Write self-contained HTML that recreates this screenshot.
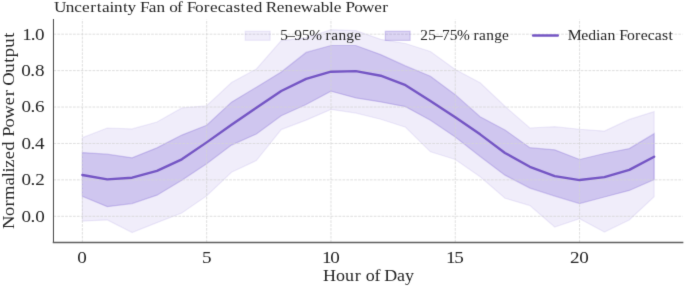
<!DOCTYPE html>
<html><head><meta charset="utf-8"><style>
html,body{margin:0;padding:0;background:#fff;}
svg{display:block;}
text{font-family:"Liberation Serif",serif;fill:#262626;}
.t{filter:grayscale(1);}
</style></head><body>
<svg width="685" height="286" viewBox="0 0 685 286">
<defs><filter id="soft" x="0" y="0" width="685" height="286" filterUnits="userSpaceOnUse" color-interpolation-filters="sRGB"><feConvolveMatrix order="3" kernelMatrix="0.01000 0.08000 0.01000 0.08000 0.64000 0.08000 0.01000 0.08000 0.01000" divisor="1" edgeMode="duplicate" preserveAlpha="true"/></filter></defs>
<g filter="url(#soft)">
<rect width="685" height="286" fill="#fff"/>
<polygon points="82.37,137.63 107.23,127.98 132.09,128.89 156.95,121.97 181.81,107.95 206.67,105.77 231.53,82.46 256.39,68.98 281.25,40.57 306.11,37.84 330.97,29.65 355.83,30.56 380.69,39.30 405.55,43.49 430.41,51.50 455.27,69.53 480.13,82.82 504.99,106.31 529.85,127.98 554.71,126.71 579.57,129.26 604.43,131.08 629.29,119.42 654.15,111.59 654.15,196.63 629.29,219.94 604.43,231.96 579.57,218.67 554.71,227.04 529.85,205.56 504.99,198.27 480.13,176.78 455.27,159.48 430.41,151.84 405.55,127.25 380.69,119.24 355.83,113.05 330.97,109.41 306.11,120.15 281.25,129.62 256.39,160.58 231.53,172.23 206.67,195.90 181.81,213.02 156.95,222.67 132.09,232.51 107.23,219.94 82.37,221.22" fill="rgb(104,76,204)" fill-opacity="0.1" stroke="rgb(104,76,204)" stroke-opacity="0.1" stroke-width="1.2"/>
<polygon points="82.37,152.57 107.23,154.20 132.09,157.85 156.95,147.83 181.81,135.08 206.67,125.25 231.53,102.12 256.39,87.19 281.25,72.08 306.11,52.41 330.97,45.49 355.83,45.49 380.69,54.60 405.55,65.89 430.41,76.27 455.27,94.66 480.13,116.69 504.99,129.98 529.85,147.65 554.71,149.83 579.57,159.48 604.43,153.48 629.29,148.56 654.15,133.63 654.15,179.52 629.29,190.44 604.43,197.00 579.57,203.55 554.71,196.09 529.85,188.07 504.99,175.15 480.13,156.57 455.27,137.09 430.41,120.15 405.55,106.68 380.69,101.94 355.83,97.94 330.97,91.20 306.11,104.49 281.25,115.78 256.39,133.99 231.53,145.10 206.67,163.67 181.81,180.24 156.95,195.18 132.09,203.55 107.23,206.65 82.37,196.27" fill="rgb(104,76,204)" fill-opacity="0.24" stroke="rgb(104,76,204)" stroke-opacity="0.24" stroke-width="1.2"/>
<g stroke="#d4d4d4" stroke-width="0.74" stroke-dasharray="2.7265 1.179" fill="none">
<line x1="82.37" y1="242.45" x2="82.37" y2="19.5"/>
<line x1="206.67" y1="242.45" x2="206.67" y2="19.5"/>
<line x1="330.97" y1="242.45" x2="330.97" y2="19.5"/>
<line x1="455.27" y1="242.45" x2="455.27" y2="19.5"/>
<line x1="579.57" y1="242.45" x2="579.57" y2="19.5"/>
<line x1="53.45" y1="216.30" x2="682.7" y2="216.30"/>
<line x1="53.45" y1="179.88" x2="682.7" y2="179.88"/>
<line x1="53.45" y1="143.46" x2="682.7" y2="143.46"/>
<line x1="53.45" y1="107.04" x2="682.7" y2="107.04"/>
<line x1="53.45" y1="70.62" x2="682.7" y2="70.62"/>
<line x1="53.45" y1="34.20" x2="682.7" y2="34.20"/>
</g>
<polyline points="82.37,174.96 107.23,179.33 132.09,177.69 156.95,170.96 181.81,159.30 206.67,142.37 231.53,124.70 256.39,107.77 281.25,91.02 306.11,78.81 330.97,71.71 355.83,71.17 380.69,75.72 405.55,85.19 430.41,101.03 455.27,117.24 480.13,134.36 504.99,152.93 529.85,166.77 554.71,176.06 579.57,180.06 604.43,177.15 629.29,169.86 654.15,156.75" fill="none" stroke="rgb(116,85,196)" stroke-width="2.4" stroke-linejoin="round" stroke-linecap="round"/>
<g fill="none" stroke-linecap="square">
<line x1="53.45" y1="19.5" x2="53.45" y2="242.45" stroke="#444444" stroke-width="1.0"/>
<line x1="53.45" y1="242.45" x2="682.7" y2="242.45" stroke="#5e5e5e" stroke-width="1.35"/>
</g>
<rect x="245.2" y="31.2" width="24.9" height="9.1" fill="rgb(104,76,204)" fill-opacity="0.1" stroke="rgb(104,76,204)" stroke-opacity="0.1" stroke-width="1.2"/>
<rect x="385.3" y="31.2" width="24.8" height="9.2" fill="rgb(104,76,204)" fill-opacity="0.24" stroke="rgb(104,76,204)" stroke-opacity="0.24" stroke-width="1.2"/>
<line x1="533.1" y1="35.45" x2="557.8" y2="35.45" stroke="rgb(116,85,196)" stroke-width="2.4" stroke-linecap="round"/>

<g class="t">
<text transform="translate(54.41,11.80) scale(1.1364,1)" x="-0.45 10.01 17.57 24.38 31.54 37.16 41.82 48.48 52.51 60.38 64.42 71.52 75.21 82.93 89.84 97.42 100.98 107.99 112.69 116.37 123.81 131.46 136.95 143.76 150.60 157.58 163.82 168.45 175.31 182.86 186.06 195.70 202.58 210.33 216.79 227.48 234.37 241.73 245.86 252.70 256.26 263.78 270.73 281.40 288.56" y="0" style="font-size:15.15px">Uncertainty&#160;Fan&#160;of&#160;Forecasted&#160;Renewable&#160;Power</text>
<text transform="translate(323.18,281.00) scale(1.0908,1)" x="-0.06 11.66 20.03 28.94 34.96 39.09 46.99 52.28 55.93 67.61 74.95" y="0" style="font-size:16.5px">Hour&#160;of&#160;Day</text>
<text transform="translate(14.00,228.86) rotate(-90) scale(1.1254,1)" x="-0.23 11.36 19.87 25.58 38.54 45.96 50.18 54.39 61.76 69.43 77.82 81.81 90.13 97.89 109.76 117.74 123.67 127.26 138.76 147.50 152.53 160.99 169.74" y="0" style="font-size:16.5px">Normalized&#160;Power&#160;Output</text>
<text transform="translate(280.17,40.00) scale(1.1132,1)" x="0.06 6.32 12.57 19.58 26.03 37.02 40.82 45.98 52.41 59.48 66.65" y="0" style="font-size:13.8px">5–95%&#160;range</text>
<text transform="translate(420.30,40.00) scale(1.1149,1)" x="0.06 7.04 13.27 19.50 26.48 32.89 43.84 47.64 52.77 59.18 66.22 73.36" y="0" style="font-size:13.8px">25–75%&#160;range</text>
<text transform="translate(568.46,40.00) scale(1.1410,1)" x="-0.62 11.17 17.43 24.14 27.94 34.23 41.14 44.48 51.31 58.29 63.29 69.50 75.74 82.09 87.79" y="0" style="font-size:13.8px">Median&#160;Forecast</text>
<text transform="translate(21.44,221.70) scale(1.1393,1)" x="0.00 8.03 12.04" y="0" style="font-size:16.8px">0.0</text>
<text transform="translate(21.49,185.28) scale(1.1393,1)" x="0.00 8.00 12.00" y="0" style="font-size:16.8px">0.2</text>
<text transform="translate(21.49,148.86) scale(1.1393,1)" x="0.00 7.91 11.86" y="0" style="font-size:16.8px">0.4</text>
<text transform="translate(21.46,112.44) scale(1.1393,1)" x="0.00 7.99 11.98" y="0" style="font-size:16.8px">0.6</text>
<text transform="translate(21.27,76.02) scale(1.1393,1)" x="0.00 8.00 12.00" y="0" style="font-size:16.8px">0.8</text>
<text transform="translate(22.15,39.60) scale(1.1393,1)" x="0.00 7.57 11.35" y="0" style="font-size:16.8px">1.0</text>
<text transform="translate(77.13,262.60) scale(1.1395,1)" x="0.00" y="0" style="font-size:16.8px">0</text>
<text transform="translate(201.92,262.60) scale(1.1395,1)" x="0.00" y="0" style="font-size:16.8px">5</text>
<text transform="translate(322.11,262.60) scale(1.1395,1)" x="0.00 7.07" y="0" style="font-size:16.8px">10</text>
<text transform="translate(446.11,262.60) scale(1.1395,1)" x="0.00 7.06" y="0" style="font-size:16.8px">15</text>
<text transform="translate(570.09,262.60) scale(1.1395,1)" x="0.00 8.12" y="0" style="font-size:16.8px">20</text>
</g>
</g>
</svg>
</body></html>
